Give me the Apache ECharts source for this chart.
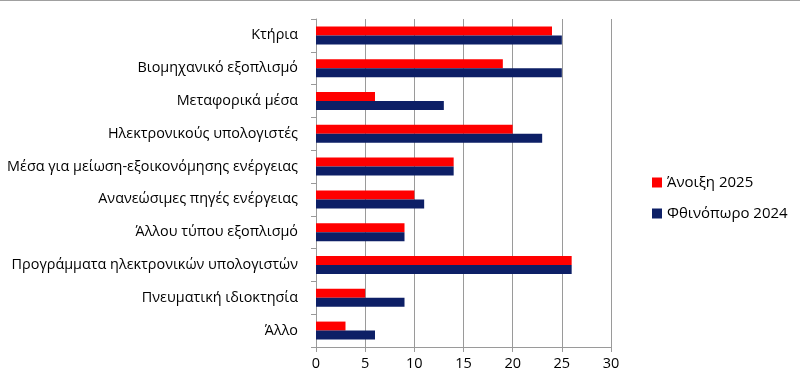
<!DOCTYPE html>
<html>
<head>
<meta charset="utf-8">
<script src="https://cdn.jsdelivr.net/npm/echarts@6/dist/echarts.min.js"></script>
<style>
html,body{margin:0;padding:0;background:#fff;}
#main{width:800px;height:376px;}
</style>
</head>
<body>
<div id="main"></div>
<script>
var categories = ['Κτήρια','Βιομηχανικό εξοπλισμό','Μεταφορικά μέσα','Ηλεκτρονικούς υπολογιστές',
	'Μέσα για μείωση-εξοικονόμησης ενέργειας','Ανανεώσιμες πηγές ενέργειας','Άλλου τύπου εξοπλισμό',
	'Προγράμματα ηλεκτρονικών υπολογιστών','Πνευματική ιδιοκτησία','Άλλο'];
var spring2025 = [24,19,6,20,14,10,9,26,5,3];
var autumn2024 = [25,25,13,23,14,11,9,26,9,6];
var xTicks = [0,5,10,15,20,25,30];

var font = 'Open Sans';
var myChart = echarts.init(document.getElementById('main'));
var option = {
	animation:false,
	textStyle:{fontFamily:font},
	graphic:[{type:'rect',left:0,top:0,shape:{width:800,height:1},style:{fill:'#a0a0a0'}}],
	legend:{
		orient:'vertical',left:647,top:170,itemWidth:10,itemHeight:10,itemGap:16,
		icon:'rect',textStyle:{fontFamily:font,fontSize:15,color:'#000'},
		data:['Άνοιξη 2025','Φθινόπωρο 2024']
	},
	grid:{left:316,right:189,top:19,bottom:29,containLabel:false},
	xAxis:{
		type:'value',min:xTicks[0],max:xTicks[xTicks.length-1],interval:5,
		axisLine:{show:true,lineStyle:{color:'#9a9a9a'}},
		axisTick:{show:true,length:5,lineStyle:{color:'#9a9a9a'}},
		axisLabel:{fontFamily:font,fontSize:14.5,color:'#000',margin:9},
		splitLine:{lineStyle:{color:'#9a9a9a',width:1}}
	},
	yAxis:{
		type:'category',inverse:true,data:categories,
		axisLine:{lineStyle:{color:'#9a9a9a'}},
		axisTick:{show:true,length:5,inside:false,lineStyle:{color:'#9a9a9a'}},
		axisLabel:{fontFamily:font,fontSize:14.4,color:'#000',margin:18}
	},
	series:[
		{name:'Άνοιξη 2025',type:'bar',data:spring2025,itemStyle:{color:'#ff0000'},barGap:'0%',barCategoryGap:'45%'},
		{name:'Φθινόπωρο 2024',type:'bar',data:autumn2024,itemStyle:{color:'#0d1f66'},barGap:'0%',barCategoryGap:'45%'}
	]
};
myChart.setOption(option);
</script>
</body>
</html>
